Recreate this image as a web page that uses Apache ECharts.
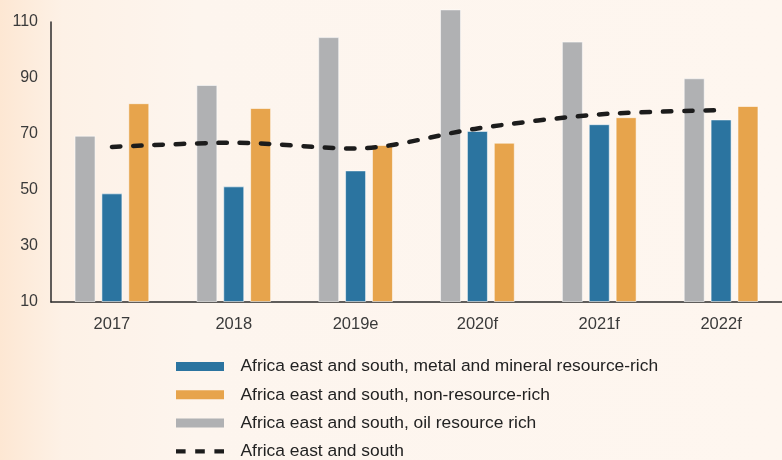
<!DOCTYPE html>
<html>
<head>
<meta charset="utf-8">
<style>
  html, body { margin: 0; padding: 0; }
  #chart { width: 782px; height: 460px; }
</style>
<script src="https://cdn.jsdelivr.net/npm/echarts@6/dist/echarts.min.js"></script>
</head>
<body>
<div id="chart"></div>
<script>
// Growth index by resource group, Africa east and south
const categories = ['2017', '2018', '2019e', '2020f', '2021f', '2022f'];
const oilRich = [69.4, 87.5, 104.6, 114.5, 103, 89.9];
const metalRich = [48.8, 51.3, 57, 71.1, 73.5, 75.2];
const nonResource = [81, 79.3, 66.1, 66.9, 76, 80];
const eastSouth = [65.4, 66.9, 64.8, 72, 77, 78.5];

const NAME_METAL = 'Africa east and south, metal and mineral resource-rich';
const NAME_NON = 'Africa east and south, non-resource-rich';
const NAME_OIL = 'Africa east and south, oil resource rich';
const NAME_ALL = 'Africa east and south';

const FONT = 'Liberation Sans';
const barBorder = { borderColor: 'rgba(255,255,255,0.55)', borderWidth: 1 };

// three short dashes for the dashed-line legend key
const dashIcon = 'path://M0,0h10v4.5h-10z M20,0h10v4.5h-10z M40,0h10v4.5h-10z';

const chart = echarts.init(document.getElementById('chart'));
chart.setOption({
  animation: false,
  backgroundColor: new echarts.graphic.LinearGradient(0, 0, 1, 0, [
    { offset: 0, color: '#fde7d3' },
    { offset: 0.08, color: '#fdf1e6' },
    { offset: 0.25, color: '#fdf5ee' },
    { offset: 1, color: '#fef6ef' }
  ]),
  grid: { left: 51, top: 22, width: 747, height: 280, containLabel: false },
  xAxis: {
    type: 'category',
    data: categories,
    axisLine: { lineStyle: { color: '#2b2b2b', width: 1.5 } },
    axisTick: { show: false },
    axisLabel: { color: '#3a3a3a', fontFamily: FONT, fontSize: 16.5, margin: 14 }
  },
  yAxis: {
    type: 'value',
    min: 10,
    max: 110,
    interval: 20,
    startValue: 10,
    axisLine: { show: true, lineStyle: { color: '#2b2b2b', width: 1.5 } },
    axisTick: { show: false },
    splitLine: { show: false },
    axisLabel: { color: '#3a3a3a', fontFamily: FONT, fontSize: 16, margin: 13 }
  },
  legend: {
    orient: 'vertical',
    left: 176,
    top: 357.5,
    height: 120,
    padding: 0,
    itemWidth: 48,
    itemHeight: 9,
    itemGap: 10.3,
    itemStyle: { borderWidth: 0 },
    data: [
      { name: NAME_METAL, icon: 'rect' },
      { name: NAME_NON, icon: 'rect' },
      { name: NAME_OIL, icon: 'rect' },
      { name: NAME_ALL, icon: dashIcon }
    ],
    textStyle: {
      color: '#222',
      fontFamily: FONT,
      fontSize: 17.4,
      lineHeight: 18,
      padding: [0, 0, 0, 11.5]
    }
  },
  series: [
    {
      name: NAME_OIL,
      type: 'bar',
      data: oilRich,
      barWidth: 21,
      barGap: '28%',
      clip: false,
      itemStyle: Object.assign({ color: '#b0b1b3' }, barBorder)
    },
    {
      name: NAME_METAL,
      type: 'bar',
      data: metalRich,
      barWidth: 21,
      barGap: '28%',
      clip: false,
      itemStyle: Object.assign({ color: '#2b74a0' }, barBorder)
    },
    {
      name: NAME_NON,
      type: 'bar',
      data: nonResource,
      barWidth: 21,
      barGap: '28%',
      clip: false,
      itemStyle: Object.assign({ color: '#e7a44c' }, barBorder)
    },
    {
      name: NAME_ALL,
      type: 'line',
      data: eastSouth,
      smooth: 0.3,
      symbol: 'none',
      z: 5,
      itemStyle: { color: '#1c1c1c' },
      lineStyle: { color: '#1c1c1c', width: 4.5, type: [8.5, 12.8], cap: 'round' }
    }
  ]
});
</script>
</body>
</html>
